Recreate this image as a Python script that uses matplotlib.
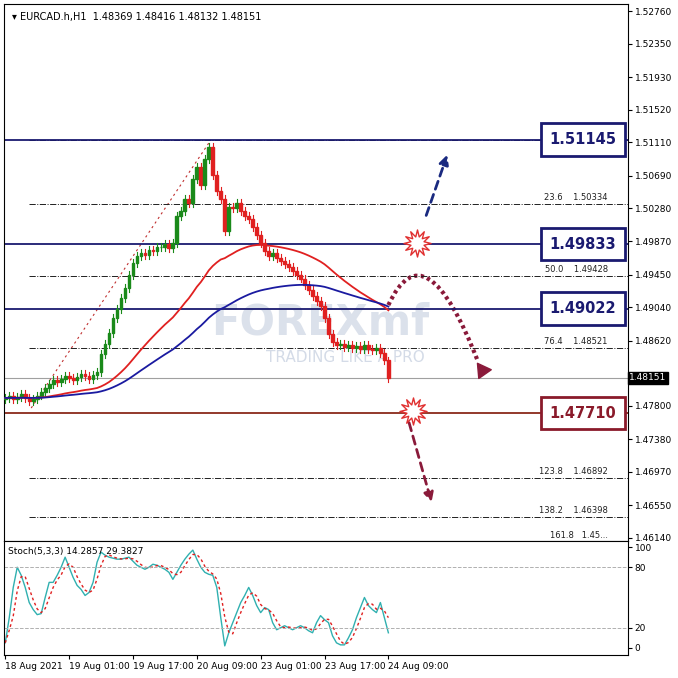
import matplotlib
matplotlib.use("Agg")
import matplotlib.pyplot as plt
import numpy as np
import pandas as pd
from matplotlib.path import Path
from matplotlib.patches import PathPatch, Rectangle

closes = [1.4790,1.4792,1.4788,1.4791,1.4795,1.4790,1.4786,1.4789,1.4793,1.4797,
          1.4802,1.4808,1.4812,1.4810,1.4814,
          1.4818,1.4815,1.4812,1.4816,1.4820,1.4817,1.4814,1.4819,1.4823,
          1.4845,1.4858,1.4872,1.4890,1.4902,
          1.4915,1.4928,1.4945,1.4960,1.4968,
          1.4972,1.4970,1.4976,1.4975,1.4979,1.4980,1.4983,1.4978,1.4985,
          1.5018,1.5025,1.5040,1.5035,
          1.5065,1.5080,1.5058,1.5090,1.5105,
          1.5070,1.5050,1.5040,1.5000,1.5030,
          1.5028,1.5035,1.5025,1.5018,1.5015,
          1.5005,1.4995,1.4985,1.4975,1.4968,
          1.4972,1.4966,1.4962,1.4958,1.4955,
          1.4950,1.4945,1.4940,1.4932,1.4925,
          1.4918,1.4912,1.4905,1.4890,1.4870,
          1.4860,1.4856,1.4858,1.4854,1.4857,
          1.4853,1.4855,1.4851,1.4856,1.4852,
          1.4850,1.4853,1.4846,1.4837,1.4815]
first_open = 1.4788
stoch_k = [5,30,60,80,72,60,45,38,33,34,50,65,65,72,80,90,80,70,62,58,52,55,65,85,95,92,90,89,88,88,
           89,90,86,82,80,78,80,83,82,80,78,75,68,75,82,88,93,97,88,80,75,73,72,60,30,2,15,25,35,45,
           52,60,52,42,35,40,38,25,18,20,22,20,18,20,22,20,17,15,25,32,28,25,12,5,3,3,10,18,30,40,
           50,42,38,35,45,30,15]
price_ticks = [1.52760,1.52350,1.51930,1.51520,1.51110,1.50690,1.50280,1.49870,1.49450,1.49040,
               1.48620,1.47800,1.47380,1.46970,1.46550,1.46140]
time_pos = [0,16,32,48,64,80,96]
time_labels = ["18 Aug 2021","19 Aug 01:00","19 Aug 17:00","20 Aug 09:00","23 Aug 01:00","23 Aug 17:00","24 Aug 09:00"]
levels = [1.51145,1.49833,1.49022]
support = 1.47710
fib_names = ["23.6","50.0","76.4","123.8","138.2"]
fib_vals = [1.50334,1.49428,1.48521,1.46892,1.46398]
last_price = 1.48151

def y2p(y): return 1.52760-(y-11)/7960.0
def x2b(x): return (x-4)/4.0

fig = plt.figure(figsize=(6.78,6.78), dpi=100)
ax = fig.add_axes([0.006,0.202,0.920,0.792])
ax2 = fig.add_axes([0.006,0.034,0.920,0.168])
n = len(closes)
idx = np.arange(n)
opens = [first_open]+closes[:-1]
for i,(o,c) in enumerate(zip(opens,closes)):
    col = "#1a8a1a" if c>=o else "#e02020"
    hi = max(o,c)+0.0005; lo = min(o,c)-0.0005
    ax.plot([i,i],[lo,hi],color=col,lw=0.8,zorder=3)
    ax.add_patch(Rectangle((i-0.35,min(o,c)),0.7,max(abs(c-o),0.00005),color=col,zorder=4))
s = pd.Series(closes)
ax.plot(idx, s.ewm(span=42,adjust=False).mean(), color="#e02020", lw=1.3, zorder=5)
ax.plot(idx, s.ewm(span=85,adjust=False).mean(), color="#1a1aa0", lw=1.3, zorder=5)
ax.plot([x2b(30),x2b(210)],[y2p(408),y2p(140)],color="#c03030",ls=(0,(2,3)),lw=0.8)
for v in fib_vals+[levels[0]]:
    ax.plot([x2b(28),156],[v,v],color="#202020",ls="-.",lw=0.7,zorder=2)
for nm,v in zip(fib_names,fib_vals):
    ax.text(151,v+0.0003,f"{nm}    {v:.5f}",fontsize=6,ha="right",va="bottom",color="#202020")
ax.text(151,1.4612,"161.8   1.45...",fontsize=6,ha="right",va="bottom",color="#202020")
for v in levels:
    ax.axhline(v,color="#1a1a70",lw=1.3,zorder=2)
    ax.text(x2b(583),v,f"{v:.5f}",fontsize=10.5,fontweight="bold",color="#1a1a70",ha="center",va="center",
            bbox=dict(boxstyle="square,pad=0.6",fc="white",ec="#1a1a70",lw=2),zorder=8)
ax.axhline(support,color="#8a2a1a",lw=1.3,zorder=2)
ax.text(x2b(583),support,f"{support:.5f}",fontsize=10.5,fontweight="bold",color="#8a1a2a",ha="center",va="center",
        bbox=dict(boxstyle="square,pad=0.6",fc="white",ec="#8a1a2a",lw=2),zorder=8)
ax.axhline(last_price,color="#a0a0a0",lw=0.8,zorder=1)
ax.text(1.002,last_price,f"{last_price:.5f}",transform=ax.get_yaxis_transform(),fontsize=6.5,color="white",
        va="center",ha="left",bbox=dict(boxstyle="square,pad=0.15",fc="black",ec="black"),clip_on=False,zorder=9)
ax.annotate("",xy=(x2b(448),y2p(152)),xytext=(x2b(425),y2p(218)),
            arrowprops=dict(arrowstyle="-|>",color="#1a2a80",lw=2,ls=(0,(3,2)),mutation_scale=14))
ax.annotate("",xy=(x2b(432),y2p(505)),xytext=(x2b(408),y2p(420)),
            arrowprops=dict(arrowstyle="-|>",color="#8a1a3a",lw=2,ls=(0,(3,2)),mutation_scale=14))
verts=[(x2b(388),y2p(305)),(x2b(425),y2p(225)),(x2b(478),y2p(362))]
ax.add_patch(PathPatch(Path(verts,[Path.MOVETO,Path.CURVE3,Path.CURVE3]),fc="none",ec="#8a1a3a",lw=3,ls=(0,(0.8,0.8))))
ax.scatter([x2b(482)],[y2p(370)],marker=(3,0,155),s=160,color="#8a1a3a",zorder=7)
ax.scatter([x2b(417),x2b(413)],[y2p(243),y2p(411)],marker=(12,1,0),s=380,fc="white",ec="#e03030",lw=1,zorder=7)
ax.text(x2b(320),y2p(322),"FOREXmf",fontsize=30,fontweight="bold",color="#b8c4d8",alpha=0.5,ha="center",va="center",zorder=1)
ax.text(x2b(345),y2p(357),"TRADING LIKE A PRO",fontsize=11,color="#b8c4d8",alpha=0.6,ha="center",va="center",zorder=1)
ax.text(0.012,0.985,"▾ EURCAD.h,H1  1.48369 1.48416 1.48132 1.48151",transform=ax.transAxes,fontsize=7,va="top")
ax.set_xlim(-0.3,156); ax.set_ylim(y2p(541),y2p(4))
ax.yaxis.tick_right(); ax.set_yticks(price_ticks); ax.set_yticklabels([f"{p:.5f}" for p in price_ticks],fontsize=6.5)
ax.set_xticks([])
ax.tick_params(axis="y",length=3,pad=2)
k = pd.Series(stoch_k)
ax2.plot(idx,k,color="#30b0b0",lw=1)
ax2.plot(idx,k.rolling(3,min_periods=1).mean(),color="#e02020",ls=(0,(2,2)),lw=1)
for v in (20,80): ax2.axhline(v,color="#b0b0b0",ls="--",lw=0.7)
ax2.set_xlim(-0.3,156); ax2.set_ylim(-7,106)
ax2.yaxis.tick_right(); ax2.set_yticks([0,20,80,100]); ax2.set_yticklabels(["0","20","80","100"],fontsize=6.5)
ax2.set_xticks(time_pos); ax2.set_xticklabels(time_labels,fontsize=6.5,ha="left")
ax2.tick_params(axis="x",length=3,pad=2); ax2.tick_params(axis="y",length=3,pad=2)
ax2.text(0.006,0.95,"Stoch(5,3,3) 14.2857 29.3827",transform=ax2.transAxes,fontsize=6.5,va="top")
fig.savefig("out.png",dpi=100)
